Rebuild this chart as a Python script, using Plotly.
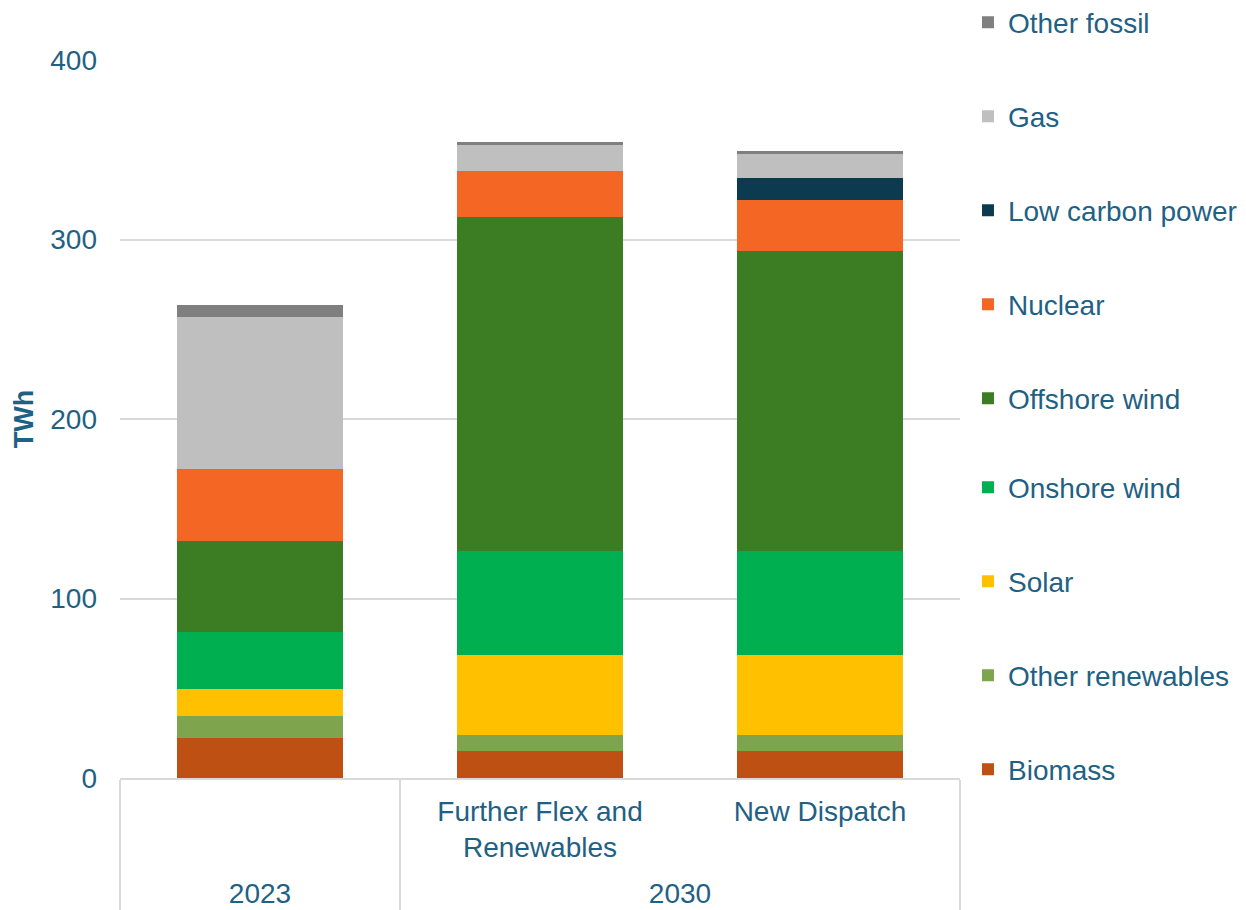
import plotly.graph_objects as go

years = ["2023", "2030", "2030"]
# the 2023 group has no scenario name; a transparent spacer keeps the year row low
scenarios = ["<span style='font-size:50px;color:rgba(0,0,0,0)'>.</span>",
             "Further Flex and<br>Renewables", "New Dispatch"]

series_names = ["Biomass", "Other renewables", "Solar", "Onshore wind", "Offshore wind",
                "Nuclear", "Low carbon power", "Gas", "Other fossil"]
biomass = [22.3, 15.0, 15.0]
other_renewables = [12.3, 8.9, 8.9]
solar = [15.0, 44.6, 44.6]
onshore_wind = [31.8, 57.9, 57.9]
offshore_wind = [50.7, 186.1, 167.1]
nuclear = [40.1, 25.6, 28.4]
low_carbon_power = [0.0, 0.0, 12.3]
gas = [84.7, 15.0, 13.9]
other_fossil = [6.7, 1.1, 1.1]

values = [biomass, other_renewables, solar, onshore_wind, offshore_wind,
          nuclear, low_carbon_power, gas, other_fossil]
colors = ["#BE5014", "#7EA44E", "#FFC000", "#00B050", "#3C7C23",
          "#F46623", "#0C3A4F", "#BFBFBF", "#7F7F7F"]

y_ticks = [0, 100, 200, 300, 400]

TEXT = "#1F6184"
FONT = "Liberation Sans, Arial, sans-serif"

fig = go.Figure()
n = len(series_names)
for i, (name, vals, col) in enumerate(zip(series_names, values, colors)):
    fig.add_trace(go.Bar(
        x=[years, scenarios], y=vals, name=name,
        marker=dict(color=col, line=dict(width=0)),
        legendgroup=name, legendrank=n - i,
        legend="legend" if i >= 4 else "legend2",
        hovertemplate=name + ": %{y:.1f} TWh<extra></extra>",
    ))

legend_common = dict(
    traceorder="grouped", tracegroupgap=54.6,
    x=1.0095, xanchor="left", xref="paper",
    yanchor="middle", yref="container",
    font=dict(size=28, color=TEXT, family=FONT),
    bgcolor="rgba(0,0,0,0)", itemwidth=30,
)

fig.update_layout(
    width=1238, height=902,
    barmode="stack", bargap=0.41,
    paper_bgcolor="white", plot_bgcolor="white",
    margin=dict(l=112, r=286, t=52, b=132, autoexpand=False),
    font=dict(family=FONT, color=TEXT, size=28),
    showlegend=True,
    legend=dict(legend_common, y=0.7755),
    legend2=dict(legend_common, y=0.312),
    yaxis=dict(
        range=[0, 400], tickvals=y_ticks, showgrid=True,
        gridcolor="#D9D9D9", gridwidth=2, zeroline=False,
        showline=False, ticks="", ticklabelstandoff=22,
        tickfont=dict(size=28, color=TEXT),
        title=dict(text="<b>TWh</b>", font=dict(size=27, color=TEXT), standoff=8),
    ),
    xaxis=dict(
        type="multicategory", showline=True, linecolor="#D9D9D9", linewidth=2,
        showdividers=True, dividercolor="#D9D9D9", dividerwidth=2,
        ticks="", tickfont=dict(size=28, color=TEXT), ticklabelstandoff=7,
        showgrid=False, zeroline=False,
    ),
)

fig.write_html("out.html")
